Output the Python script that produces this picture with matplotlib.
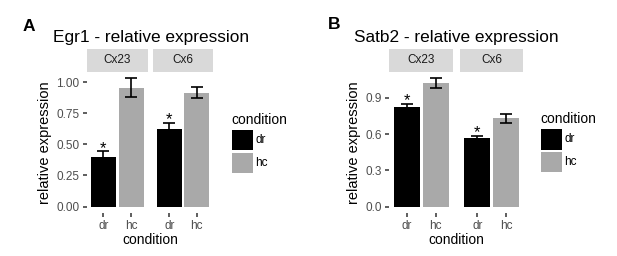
import numpy as np
import matplotlib.pyplot as plt
from matplotlib.patches import Rectangle

plt.rcParams['font.family'] = ['Liberation Sans', 'DejaVu Sans']

# data (mean and standard error)
conditions = ["dr", "hc"]
groups = ["Cx23", "Cx6"]
bar_colors = ["black", "#A9A9A9"]

egr1_mean = [[0.40, 0.955], [0.625, 0.915]]
egr1_se = [[0.045, 0.075], [0.050, 0.042]]
egr1_sig = [["*", ""], ["*", ""]]
egr1_ticks = [0.0, 0.25, 0.5, 0.75, 1.0]
egr1_ticklabels = ["0.00", "0.25", "0.50", "0.75", "1.00"]

satb2_mean = [[0.825, 1.022], [0.565, 0.73]]
satb2_se = [[0.025, 0.040], [0.020, 0.035]]
satb2_sig = [["*", ""], ["*", ""]]
satb2_ticks = [0.0, 0.3, 0.6, 0.9]
satb2_ticklabels = ["0.0", "0.3", "0.6", "0.9"]

W, H = 617, 256
fig = plt.figure(figsize=(W / 100, H / 100), dpi=100)


def px_axes(x0, y0, x1, y1):
    # axes from pixel box (top-left origin)
    return fig.add_axes([x0 / W, 1 - y1 / H, (x1 - x0) / W, (y1 - y0) / H])


def fx(x):
    return x / W


def fy(y):
    return 1 - y / H


def draw_panel(letter, letter_xy, title, title_xy, panels, means, ses, sigs,
               ticks, ticklabels, legend_xy):
    ymax = max(m + s for mm, ss in zip(means, ses) for m, s in zip(mm, ss))
    ylim = (-0.05 * ymax, 1.05 * ymax)
    top, bottom = 72, 213
    for gi, (x0, x1) in enumerate(panels):
        ax = px_axes(x0, top, x1, bottom)
        x = np.arange(len(conditions))
        ax.bar(x, means[gi], width=0.9, color=bar_colors, yerr=ses[gi],
               error_kw=dict(ecolor='black', elinewidth=1.2, capsize=4, capthick=1.2))
        for xi, m, s, sg in zip(x, means[gi], ses[gi], sigs[gi]):
            if sg:
                ax.text(xi, m + s - 0.012, sg, ha='center', va='baseline', fontsize=12)
        ax.set_xlim(-0.6, 1.6)
        ax.set_ylim(ylim)
        for sp in ax.spines.values():
            sp.set_visible(False)
        ax.set_xticks(x)
        ax.set_xticklabels(conditions)
        ax.set_yticks(ticks)
        ax.set_yticklabels(ticklabels)
        ax.tick_params(length=2.75, width=1.1, color='#333333', labelcolor='#4D4D4D',
                       labelsize=8.5, pad=2.5)
        if gi > 0:
            ax.tick_params(axis='y', left=False, labelleft=False)
        else:
            ax.set_ylabel("relative expression", fontsize=10.5, labelpad=3)

        # facet strip
        sx = px_axes(x0, 48.5, x1, top)
        sx.set_facecolor('#D9D9D9')
        sx.set_xticks([])
        sx.set_yticks([])
        for sp in sx.spines.values():
            sp.set_visible(False)
        sx.text(0.5, 0.5, groups[gi], ha='center', va='center', fontsize=8.5,
                color='#1A1A1A', transform=sx.transAxes)

    xc = (panels[0][0] + panels[-1][1]) / 2
    fig.text(fx(xc), fy(244.5), "condition", ha='center', va='baseline', fontsize=10)
    fig.text(fx(title_xy[0]), fy(title_xy[1]), title, ha='left', va='baseline', fontsize=12.4)
    fig.text(fx(letter_xy[0]), fy(letter_xy[1]), letter, ha='left', va='baseline',
             fontsize=12.5, fontweight='bold')

    # legend
    lx, ly = legend_xy
    fig.text(fx(lx), fy(ly), "condition", ha='left', va='baseline', fontsize=10)
    key = 20.4
    for i, (c, lab) in enumerate(zip(bar_colors, conditions)):
        ky = ly + 6.5 + i * 22.7
        fig.add_artist(Rectangle((fx(lx + 1.3), fy(ky + key)), key / W, key / H,
                                 facecolor=c, edgecolor='none', transform=fig.transFigure))
        fig.text(fx(lx + 1.3 + key + 2.8), fy(ky + key / 2), lab, ha='left', va='center',
                 fontsize=8.5)


draw_panel("A", (22.3, 30.7), "Egr1 - relative expression", (53, 41.7),
           [(86.7, 148), (153, 213)], egr1_mean, egr1_se, egr1_sig,
           egr1_ticks, egr1_ticklabels, (231, 123.5))
draw_panel("B", (328.3, 29.3), "Satb2 - relative expression", (354.3, 41.7),
           [(389.3, 453.3), (460, 523.3)], satb2_mean, satb2_se, satb2_sig,
           satb2_ticks, satb2_ticklabels, (540, 122.8))

fig.savefig("out.png", dpi=100)
